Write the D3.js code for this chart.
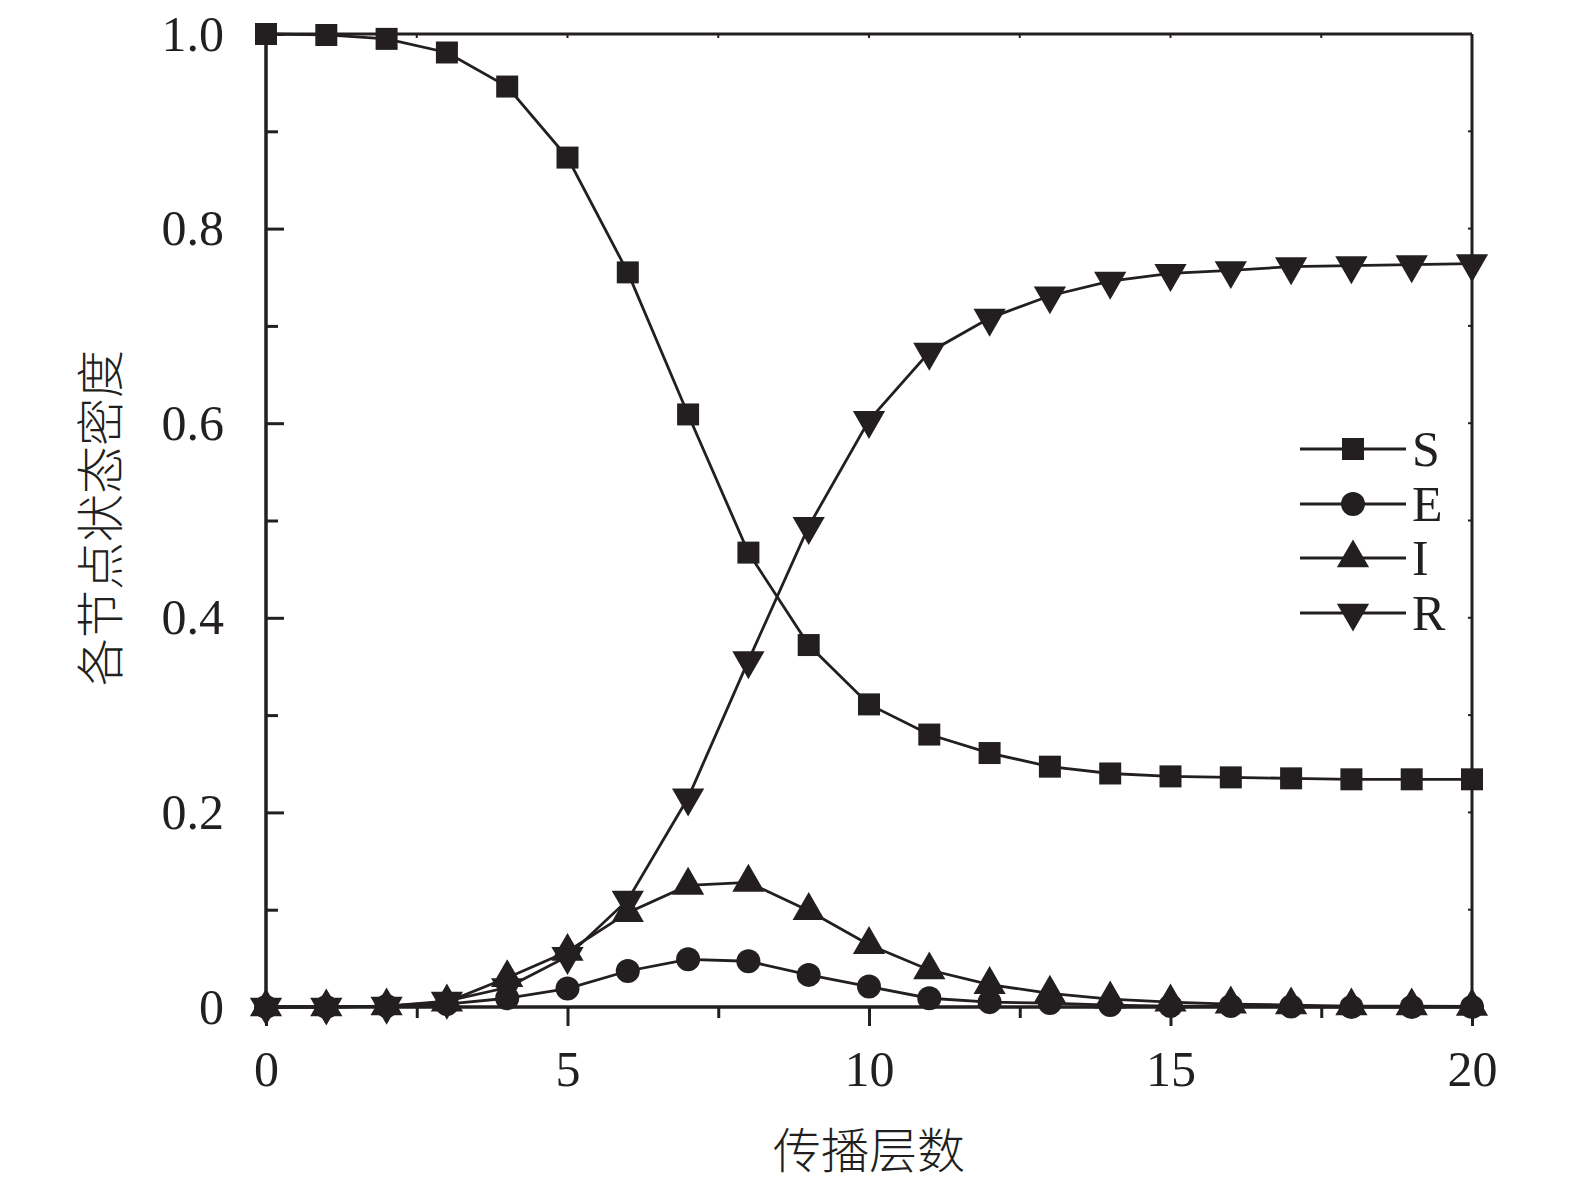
<!DOCTYPE html>
<html lang="zh">
<head>
    <meta charset="UTF-8">
    <title>SEIR 传播层数</title>
    <script src="https://d3js.org/d3.v7.min.js"></script>
    <style>
        body { margin: 0; background: #fff; }
        .num { font-family: "Liberation Serif", "DejaVu Serif", serif; font-size: 50px; fill: #231f20; }
        .cjk { font-family: "Noto Sans CJK SC", sans-serif; font-size: 48px; fill: #231f20; font-weight: 300; }
    </style>
</head>
<body>
    <svg id="chart" width="1575" height="1181"></svg>
    <script>
        // propagation layers 0..20
        const layers = d3.range(0, 21);
        const sValues = [1.000, 0.999, 0.995, 0.981, 0.946, 0.873, 0.755, 0.609, 0.467, 0.372, 0.311,
                         0.280, 0.261, 0.247, 0.240, 0.237, 0.236, 0.235, 0.234, 0.234, 0.234];
        const eValues = [0, 0, 0.001, 0.003, 0.009, 0.019, 0.037, 0.049, 0.047, 0.033, 0.021,
                         0.009, 0.005, 0.004, 0.002, 0.001, 0.001, 0.0005, 0, 0, 0];
        const iValues = [0, 0, 0.001, 0.005, 0.030, 0.057, 0.097, 0.125, 0.128, 0.099, 0.064,
                         0.038, 0.023, 0.014, 0.008, 0.005, 0.003, 0.002, 0.001, 0.001, 0.0005];
        const rValues = [0, 0, 0.001, 0.006, 0.020, 0.052, 0.110, 0.215, 0.356, 0.494, 0.603,
                         0.673, 0.708, 0.731, 0.746, 0.754, 0.757, 0.761, 0.762, 0.763, 0.764];
        const seriesNames = ["S", "E", "I", "R"];
        const xTicks = [0, 5, 10, 15, 20];
        const yTicks = [0, 0.2, 0.4, 0.6, 0.8, 1.0];
        const yTickLabels = ["0", "0.2", "0.4", "0.6", "0.8", "1.0"];

        const ink = "#231f20";
        const svg = d3.select("#chart");

        const x = d3.scaleLinear().domain([0, 20]).range([266, 1472]);
        const y = d3.scaleLinear().domain([0, 1]).range([1007, 34]);

        const series = [
            { name: "S", values: sValues, symbol: d3.symbolSquare, size: 484, rotate: 0 },
            { name: "E", values: eValues, symbol: d3.symbolCircle, size: 452, rotate: 0 },
            { name: "I", values: iValues, symbol: d3.symbolTriangle, size: 450, rotate: 0 },
            { name: "R", values: rValues, symbol: d3.symbolTriangle, size: 450, rotate: 180 }
        ];

        // frame: top and right sides with tiny inward ticks
        svg.append("line").attr("x1", x(0)).attr("x2", x(20)).attr("y1", y(1)).attr("y2", y(1))
            .attr("stroke", ink).attr("stroke-width", 3);
        svg.append("line").attr("x1", x(20)).attr("x2", x(20)).attr("y1", y(1)).attr("y2", y(0))
            .attr("stroke", ink).attr("stroke-width", 3);
        svg.append("g").selectAll("line").data(d3.range(2.5, 20, 2.5)).enter().append("line")
            .attr("x1", d => x(d)).attr("x2", d => x(d))
            .attr("y1", y(1)).attr("y2", y(1) + 4)
            .attr("stroke", ink).attr("stroke-width", 2);
        svg.append("g").selectAll("line").data(d3.range(0.1, 1, 0.1)).enter().append("line")
            .attr("x1", x(20)).attr("x2", x(20) - 4)
            .attr("y1", d => y(d)).attr("y2", d => y(d))
            .attr("stroke", ink).attr("stroke-width", 2);

        // x axis, ticks outward
        const xMinor = svg.append("g").attr("transform", `translate(0,${y(0)})`)
            .call(d3.axisBottom(x).tickValues([2.5, 7.5, 12.5, 17.5]).tickSize(11).tickFormat(""));
        const xAxis = svg.append("g").attr("transform", `translate(0,${y(0)})`)
            .call(d3.axisBottom(x).tickValues(xTicks).tickSize(19).tickPadding(24).tickFormat(d3.format("d")));
        xAxis.selectAll("text").attr("class", "num").attr("fill", null);

        // y axis, ticks inward
        const yMinor = svg.append("g").attr("transform", `translate(${x(0)},0)`)
            .call(d3.axisLeft(y).tickValues([0.1, 0.3, 0.5, 0.7, 0.9]).tickSize(-12).tickFormat(""));
        const yAxis = svg.append("g").attr("transform", `translate(${x(0)},0)`)
            .call(d3.axisLeft(y).tickValues(yTicks).tickSize(-18).tickPadding(42)
                .tickFormat((d, i) => yTickLabels[i]));
        yAxis.selectAll("text").attr("class", "num").attr("fill", null);

        [xMinor, xAxis, yMinor, yAxis].forEach(g => {
            g.selectAll("path, line").attr("stroke", ink).attr("stroke-width", 3);
            g.select(".domain").attr("d", g === xAxis || g === xMinor
                ? `M${x(0)},0H${x(20)}` : `M0,${y(0)}V${y(1)}`);
        });

        // lines and markers
        const line = d3.line().x((d, i) => x(layers[i])).y(d => y(d));
        series.forEach(s => {
            svg.append("path").datum(s.values)
                .attr("d", line)
                .attr("fill", "none")
                .attr("stroke", ink)
                .attr("stroke-width", 2.8);
            svg.append("g").selectAll("path").data(s.values).enter().append("path")
                .attr("d", d3.symbol().type(s.symbol).size(s.size))
                .attr("transform", (d, i) => `translate(${x(layers[i])},${y(d)}) rotate(${s.rotate})`)
                .attr("fill", ink);
        });

        // legend
        const legendY = [449, 504, 558, 613];
        const legend = svg.append("g");
        series.forEach((s, i) => {
            const g = legend.append("g").attr("transform", `translate(0,${legendY[i]})`);
            g.append("line").attr("x1", 1300).attr("x2", 1406).attr("y1", 0).attr("y2", 0)
                .attr("stroke", ink).attr("stroke-width", 2.8);
            g.append("path").attr("d", d3.symbol().type(s.symbol).size(s.size))
                .attr("transform", `translate(1353,0) rotate(${s.rotate})`)
                .attr("fill", ink);
            g.append("text").attr("class", "num").attr("x", 1412).attr("y", 17).text(seriesNames[i]);
        });

        // axis titles
        svg.append("text").attr("class", "cjk")
            .attr("x", (x(0) + x(20)) / 2).attr("y", 1168)
            .attr("text-anchor", "middle").text("传播层数");
        svg.append("text").attr("class", "cjk")
            .attr("transform", `translate(118,518) rotate(-90)`)
            .attr("text-anchor", "middle").text("各节点状态密度");
    </script>
</body>
</html>
